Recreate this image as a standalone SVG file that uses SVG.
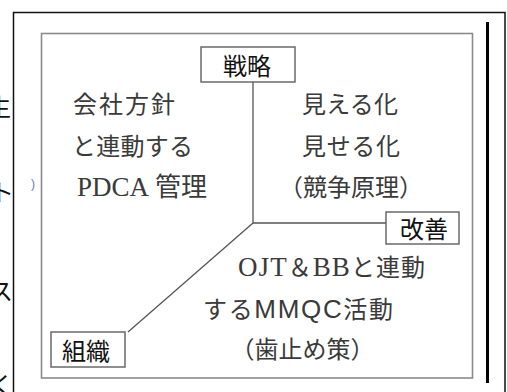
<svg xmlns="http://www.w3.org/2000/svg" width="507" height="392" viewBox="0 0 507 392">
<defs>
<clipPath id="leftclip"><rect x="-40" y="0" width="52.5" height="392"/></clipPath>
</defs>
<style>
.body{font-family:"Liberation Serif","Noto Sans CJK JP",serif;font-size:24px;fill:#3a3a3a;text-anchor:middle}
.st{text-anchor:start}
.lbl{font-family:"Noto Sans CJK JP",sans-serif;font-size:24px;fill:#111;text-anchor:middle}
.box{fill:#fff;stroke:#6a6a6a;stroke-width:1.5}
.conn{fill:none;stroke:#555;stroke-width:1.3}
.frag{font-family:"Noto Sans CJK JP",sans-serif;font-size:24px;fill:#111;text-anchor:end}
.lat{font-family:"Liberation Serif",serif;font-size:27px}
</style>
<rect width="507" height="392" fill="#fff"/>
<g id="fragments" clip-path="url(#leftclip)">
<text class="frag" x="11" y="116">生</text>
<text class="frag" x="14" y="201">ト</text>
<text class="frag" x="13" y="300">ス</text>
<text class="frag" x="14" y="343">、</text>
<text class="frag" x="14" y="394">く</text>
</g>
<text x="31" y="188" style="font-family:'Liberation Sans',sans-serif;font-size:12px;fill:#6a7ab0">)</text>
<g id="frame">
<path d="M13.5,400 V12.5 H505 V400" fill="none" stroke="#111" stroke-width="1.5"/>
<rect x="486" y="22" width="3" height="361" fill="#000"/>
<rect x="41.5" y="33.5" width="431" height="344.5" fill="none" stroke="#8a8a8a" stroke-width="1.6"/>
</g>
<g id="connectors">
<path class="conn" d="M253,82 V223 H386"/>
<path class="conn" d="M253,223 L128,332"/>
</g>
<g id="strategy">
<rect class="box" x="201" y="47" width="94" height="35"/>
<text class="lbl" x="247" y="75">戦略</text>
</g>
<g id="kaizen">
<rect class="box" x="386" y="212" width="73" height="32"/>
<text class="lbl" x="424" y="238">改善</text>
</g>
<g id="soshiki">
<rect class="box" x="51" y="332" width="74" height="35"/>
<text class="lbl" x="86" y="360">組織</text>
</g>
<g id="quadrant-left">
<text class="body" x="124" y="113" textLength="102">会社方針</text>
<text class="body" x="132.5" y="155" textLength="121">と連動する</text>
<text class="body st" x="77" y="196"><tspan class="lat">PDCA</tspan><tspan dx="6" style="font-size:26px">管理</tspan></text>
</g>
<g id="quadrant-right">
<text class="body" x="350" y="113" textLength="96">見える化</text>
<text class="body" x="351" y="155" textLength="98">見せる化</text>
<text class="body" x="351" y="196">（競争原理）</text>
</g>
<g id="quadrant-bottom">
<text class="body st" x="238" y="276" textLength="187"><tspan class="lat">OJT</tspan>＆<tspan class="lat">BB</tspan>と連動</text>
<text class="body st" x="203" y="318" textLength="190">する<tspan style="font-family:'Liberation Sans',sans-serif;font-size:26px">MMQC</tspan>活動</text>
<text class="body" x="302.5" y="358">（歯止め策）</text>
</g>
</svg>
